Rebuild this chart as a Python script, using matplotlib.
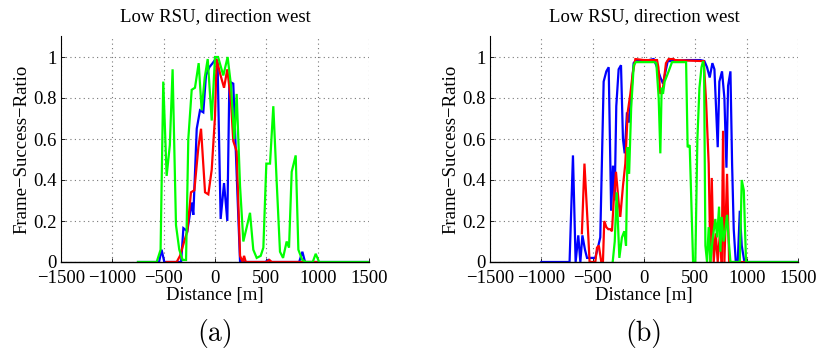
import matplotlib
matplotlib.use("Agg")
import matplotlib.pyplot as plt

# ---- data: panel (a) ----
a_blue_x = [-750, -545, -520, -494, -330, -308, -270, -227, -211, -178, -146, -114, -88, -55, -23, 6, 25, 55, 88, 120, 140, 178, 211, 244, 490, 519, 540, 820, 851, 877, 1500]
a_blue_y = [0, 0, 0.06, 0, 0, 0.165, 0.15, 0.29, 0.23, 0.65, 0.74, 0.73, 0.91, 0.95, 0.97, 0.99, 0.97, 0.21, 0.385, 0.2, 0.88, 0.87, 0.43, 0, 0, 0.01, 0, 0, 0.05, 0, 0]

a_red_x = [-470, -373, -341, -300, -270, -234, -201, -162, -136, -97, -65, -32, 0, 16, 49, 88, 120, 156, 178, 211, 244, 270, 283, 300, 500, 530, 552, 990]
a_red_y = [0, 0, 0.03, 0.1, 0.15, 0.34, 0.35, 0.56, 0.65, 0.34, 0.33, 0.45, 0.71, 0.99, 0.92, 0.85, 0.94, 0.78, 0.59, 0.54, 0.03, 0, 0.03, 0, 0, 0.01, 0, 0]

a_green_x = [-750, -568, -530, -504, -471, -440, -413, -380, -348, -315, -282, -260, -227, -195, -159, -130, -100, -71, -32, 0, 30, 81, 123, 156, 188, 211, 244, 276, 309, 341, 373, 406, 445, 471, 500, 536, 568, 600, 633, 663, 698, 721, 747, 786, 812, 850, 887, 952, 981, 1014, 1500]
a_green_y = [0, 0, 0.06, 0.88, 0.42, 0.57, 0.94, 0.18, 0.06, 0.01, 0.01, 0.6, 0.84, 0.85, 0.97, 0.74, 0.9, 0.99, 0.69, 1.0, 1.0, 0.91, 1.0, 0.86, 0.6, 0.82, 0.37, 0.1, 0.17, 0.24, 0.06, 0.02, 0.03, 0.07, 0.48, 0.48, 0.76, 0.4, 0.05, 0.02, 0.1, 0.07, 0.44, 0.52, 0.06, 0.01, 0, 0, 0.04, 0, 0]

# ---- data: panel (b) ----
b_blue_x = [-1000, -725, -692, -666, -640, -620, -600, -575, -555, -505, -475, -449, -426, -393, -367, -344, -320, -302, -286, -270, -247, -224, -205, -188, -166, -146, -124, -101, -84, 0, 94, 127, 160, 185, 210, 231, 289, 419, 549, 588, 614, 640, 666, 686, 718, 734, 760, 783, 803, 819, 842, 858, 874, 894, 913, 933, 952, 978, 1500]
b_blue_y = [0, 0, 0.52, 0, 0.13, 0, 0.13, 0.06, 0.02, 0.02, 0.02, 0.07, 0.12, 0.88, 0.93, 0.95, 0.25, 0.47, 0.3, 0.76, 0.94, 0.96, 0.6, 0.53, 0.73, 0.68, 0.82, 0.97, 0.98, 0.98, 0.99, 0.95, 0.9, 0.87, 0.93, 0.98, 0.98, 0.985, 0.985, 0.98, 0.95, 0.9, 0.97, 0.94, 0.56, 0.88, 0.93, 0.8, 0.46, 0.86, 0.93, 0.48, 0.16, 0, 0, 0.25, 0.08, 0, 0]

b_red_x = [-605, -580, -549, -530, -474, -458, -440, -416, -400, -387, -367, -348, -328, -312, -296, -273, -247, -231, -205, -182, -159, -133, -110, -84, 0, 60, 127, 140, 159, 185, 214, 240, 289, 300, 582, 605, 630, 647, 660, 679, 700, 718, 741, 757, 770, 783, 809, 829, 988]
b_red_y = [0.14, 0.48, 0.19, 0, 0, 0.07, 0.08, 0, 0, 0.2, 0.17, 0.16, 0.16, 0.15, 0.29, 0.44, 0.29, 0.22, 0.37, 0.48, 0.73, 0.82, 0.92, 0.99, 0.985, 0.985, 0.985, 0.95, 0.82, 0.85, 0.97, 0.99, 0.99, 0.985, 0.98, 0.78, 0.48, 0, 0.41, 0, 0.14, 0, 0.15, 0, 0.64, 0, 0.43, 0, 0]

b_green_x = [-305, -285, -266, -240, -215, -192, -175, -160, -145, -125, -100, -80, 0, 100, 120, 143, 159, 172, 185, 201, 240, 273, 300, 410, 425, 445, 478, 500, 520, 540, 560, 575, 585, 592, 598, 614, 630, 647, 673, 695, 712, 731, 744, 757, 775, 793, 809, 826, 842, 874, 933, 952, 972, 994, 1500]
b_green_y = [0, 0.1, 0.34, 0.02, 0.12, 0.15, 0.08, 0.56, 0.43, 0.75, 0.96, 0.975, 0.975, 0.975, 0.97, 0.8, 0.53, 0.85, 0.82, 0.88, 0.93, 0.975, 0.975, 0.975, 0.56, 0.57, 0, 0, 0.6, 0.85, 0.95, 0.98, 0.95, 0.48, 0.08, 0, 0.17, 0, 0.13, 0.21, 0.12, 0.27, 0.05, 0.22, 0.1, 0.16, 0.23, 0.1, 0, 0, 0, 0.4, 0.35, 0, 0]

x_ticks = [-1500, -1000, -500, 0, 500, 1000, 1500]
y_ticks = [0, 0.2, 0.4, 0.6, 0.8, 1.0]
y_tick_labels = ["0", "0.2", "0.4", "0.6", "0.8", "1"]

title_text = "Low RSU, direction west"
x_label = "Distance [m]"
y_label = "Frame\u2212Success\u2212Ratio"
panel_tags = ["(a)", "(b)"]

SERIF = ["Liberation Serif", "DejaVu Serif"]

fig = plt.figure(figsize=(8.19, 3.61), dpi=100)
W, H = 819, 361

panels = [
    (61, [(a_blue_x, a_blue_y, "#0000ff"), (a_red_x, a_red_y, "#ff0000"), (a_green_x, a_green_y, "#00ff00")]),
    (490, [(b_blue_x, b_blue_y, "#0000ff"), (b_red_x, b_red_y, "#ff0000"), (b_green_x, b_green_y, "#00ff00")]),
]

ax_w, ax_top, ax_bot = 308, 36.5, 262

for i, (left_px, series) in enumerate(panels):
    ax = fig.add_axes([left_px / W, 1 - ax_bot / H, ax_w / W, (ax_bot - ax_top) / H])
    for xs, ys, col in series:
        ax.plot(xs, ys, color=col, lw=1.6, solid_joinstyle="miter")
    ax.set_xlim(-1500, 1500)
    ax.set_ylim(0, 1.1)
    ax.set_xticks(x_ticks)
    ax.set_xticklabels([f"{t}".replace("-", "\u2212") for t in x_ticks], family=SERIF, fontsize=13.5)
    ax.set_yticks(y_ticks)
    ax.set_yticklabels(y_tick_labels, family=SERIF, fontsize=13.5)
    ax.tick_params(direction="in", length=3, width=0.6)
    ax.tick_params(axis="x", pad=6)
    ax.tick_params(axis="y", pad=3)
    ax.grid(True, linestyle=(0, (1, 3)), color="#777777", linewidth=0.8)
    ax.spines["top"].set_visible(False)
    ax.spines["right"].set_visible(False)
    ax.spines["left"].set_linewidth(0.8)
    ax.spines["bottom"].set_linewidth(1.0)
    ax.set_axisbelow(True)
    cx = (left_px + ax_w / 2) / W
    ax.set_xlabel(x_label, family=SERIF, fontsize=13.5, labelpad=0)
    ax.set_ylabel(y_label, family=SERIF, fontsize=13.5, labelpad=2)
    fig.text(cx, 1 - 21.5 / H, title_text, ha="center", va="baseline", family=SERIF, fontsize=13.5)
    fig.text(cx, 1 - 333 / H, panel_tags[i], ha="center", va="center", family=["cmr10"] + SERIF, fontsize=20)

fig.savefig("out.png", dpi=100)
